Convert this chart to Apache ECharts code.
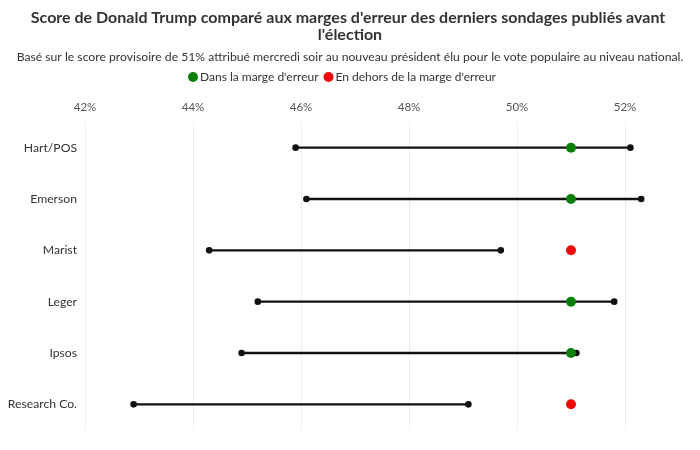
<!DOCTYPE html>
<html><head><meta charset="utf-8">
<script src="https://cdn.jsdelivr.net/npm/echarts@6/dist/echarts.min.js"></script>
<style>html,body{margin:0;padding:0;background:#fff}#c{width:700px;height:450px}</style>
</head><body><div id="c"></div>
<script>
const pollsters = ['Hart/POS', 'Emerson', 'Marist', 'Leger', 'Ipsos', 'Research Co.'];
const lowBound = [45.9, 46.1, 44.3, 45.2, 44.9, 42.9];
const highBound = [52.1, 52.3, 49.7, 51.8, 51.1, 49.1];
const trumpScore = [51, 51, 51, 51, 51, 51];
const xMin = 42, xMax = 53, xStep = 2;

const FONT = 'Lato';
const inside = [], outside = [];
pollsters.forEach((p, i) => {
  const s = trumpScore[i];
  if (s >= lowBound[i] && s <= highBound[i]) inside.push([s, p]); else outside.push([s, p]);
});
const ranges = pollsters.map((p, i) => [lowBound[i], highBound[i], p]);

const chart = echarts.init(document.getElementById('c'), null, {renderer: 'canvas'});
chart.setOption({
  backgroundColor: '#fff',
  textStyle: {fontFamily: FONT},
  title: {
    text: "Score de Donald Trump comparé aux marges d'erreur des derniers sondages publiés avant l'élection",
    subtext: 'Basé sur le score provisoire de 51% attribué mercredi soir au nouveau président élu pour le vote populaire au niveau national.',
    left: 'center', top: 4, itemGap: 8,
    textStyle: {fontFamily: FONT, fontSize: 16, fontWeight: 'bold', color: '#333', width: 680, overflow: 'break', lineHeight: 17, align: 'center'},
    subtextStyle: {fontFamily: FONT, fontSize: 12.2, color: '#333'}
  },
  legend: {
    top: 66, left: 183, itemWidth: 10, itemHeight: 10, itemGap: 5,
    textStyle: {fontFamily: FONT, fontSize: 12, color: '#333', padding: [0, 0, 0, -3]},
    data: [{name: "Dans la marge d'erreur", icon: 'circle'}, {name: "En dehors de la marge d'erreur", icon: 'circle'}]
  },
  grid: {left: 85, right: 21, top: 122, bottom: 20},
  xAxis: {
    type: 'value', position: 'top', min: xMin, max: xMax, interval: xStep,
    axisLine: {show: false}, axisTick: {show: false},
    axisLabel: {formatter: '{value}%', color: '#555', fontSize: 11.5, fontFamily: FONT, margin: 9, showMaxLabel: false},
    splitLine: {show: true, showMaxLine: false, lineStyle: {color: '#eee', width: 1}}
  },
  yAxis: {
    type: 'category', data: pollsters, inverse: true,
    axisLine: {show: false}, axisTick: {show: false},
    axisLabel: {color: '#333', fontSize: 12.2, fontFamily: FONT, margin: 8},
    splitLine: {show: false}
  },
  series: [
    {
      type: 'custom', name: 'range', silent: true, z: 2,
      data: ranges,
      encode: {x: [0, 1], y: 2},
      renderItem: function (params, api) {
        const a = api.coord([api.value(0), api.value(2)]);
        const b = api.coord([api.value(1), api.value(2)]);
        return {
          type: 'group',
          children: [
            {type: 'line', shape: {x1: a[0], y1: a[1], x2: b[0], y2: b[1]}, style: {stroke: '#111', lineWidth: 2.3}},
            {type: 'circle', shape: {cx: a[0], cy: a[1], r: 3.3}, style: {fill: '#111'}},
            {type: 'circle', shape: {cx: b[0], cy: b[1], r: 3.3}, style: {fill: '#111'}}
          ]
        };
      }
    },
    {
      type: 'scatter', name: "Dans la marge d'erreur", data: inside, symbol: 'circle', symbolSize: 10, z: 3,
      itemStyle: {color: '#0a800a', opacity: 1}
    },
    {
      type: 'scatter', name: "En dehors de la marge d'erreur", data: outside, symbol: 'circle', symbolSize: 10, z: 3,
      itemStyle: {color: '#ee0a0a', opacity: 1}
    }
  ]
});
</script></body></html>
